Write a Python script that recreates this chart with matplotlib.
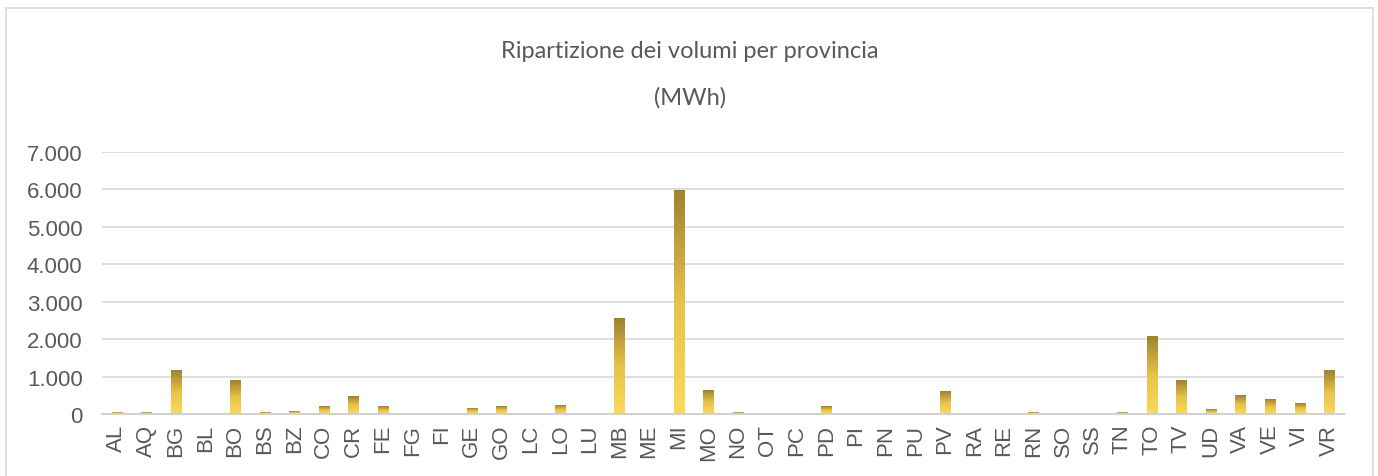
import numpy as np
import matplotlib.pyplot as plt
from matplotlib.colors import LinearSegmentedColormap
from matplotlib.patches import Rectangle
from matplotlib.ticker import FuncFormatter

province = ["AL", "AQ", "BG", "BL", "BO", "BS", "BZ", "CO", "CR", "FE", "FG", "FI",
            "GE", "GO", "LC", "LO", "LU", "MB", "ME", "MI", "MO", "NO", "OT", "PC",
            "PD", "PI", "PN", "PU", "PV", "RA", "RE", "RN", "SO", "SS", "TN", "TO",
            "TV", "UD", "VA", "VE", "VI", "VR"]
volumi = [40, 40, 1150, 0, 900, 40, 80, 210, 480, 190, 0, 0,
          160, 190, 0, 240, 0, 2560, 0, 5970, 640, 40, 0, 0,
          210, 0, 0, 0, 590, 0, 0, 40, 0, 0, 40, 2060,
          900, 110, 500, 400, 290, 1170]

grigio = "#595959"
fig = plt.figure(figsize=(13.78, 4.77), dpi=100)
fig.patches.append(Rectangle((6 / 1378, -0.05), 1367 / 1378, 1 - 9 / 477 + 0.05,
                             transform=fig.transFigure, fill=False,
                             edgecolor="#d9d9d9", linewidth=1.2))

ax = fig.add_axes([102 / 1378, 1 - 415 / 477, 1242 / 1378, 262 / 477])
x = np.arange(len(province))
w = 0.34
bars = ax.bar(x, volumi, width=w, color="none", zorder=2)

# gradiente verticale dentro ogni barra
cmap = LinearSegmentedColormap.from_list("oro", ["#fcd95c", "#e8c24a", "#9f8230"])
grad = np.linspace(0, 1, 256).reshape(-1, 1)
for b in bars:
    h = b.get_height()
    if h <= 0:
        continue
    x0 = b.get_x()
    ax.imshow(grad, cmap=cmap, origin="lower", aspect="auto",
              extent=(x0, x0 + w, 0, h), zorder=2, interpolation="bilinear")

ax.set_xlim(-0.5, len(province) - 0.5)
ax.set_ylim(0, 7000)
ax.set_yticks(np.arange(0, 7001, 1000))
ax.yaxis.set_major_formatter(FuncFormatter(lambda v, p: f"{int(v):,}".replace(",", ".")))
ax.set_xticks(x)
ax.set_xticklabels(province, rotation=90)
ax.grid(axis="y", color="#d9d9d9", linewidth=1.2, zorder=0)
ax.set_axisbelow(True)
for s in ["top", "right", "left"]:
    ax.spines[s].set_visible(False)
ax.spines["bottom"].set_color("#d0d0d0")
ax.spines["bottom"].set_linewidth(1.5)
ax.tick_params(axis="both", length=0, colors=grigio, labelsize=16)
ax.tick_params(axis="y", pad=14)
ax.tick_params(axis="x", pad=7)
for t in ax.get_xticklabels() + ax.get_yticklabels():
    t.set_fontfamily("Liberation Sans")

fig.text(690 / 1378, 1 - 52 / 477, "Ripartizione dei volumi per provincia",
         ha="center", va="center", fontsize=17, color=grigio, family="Lato")
fig.text(690 / 1378, 1 - 98 / 477, "(MWh)",
         ha="center", va="center", fontsize=17, color=grigio, family="Lato")

fig.savefig("out.png", dpi=100)
